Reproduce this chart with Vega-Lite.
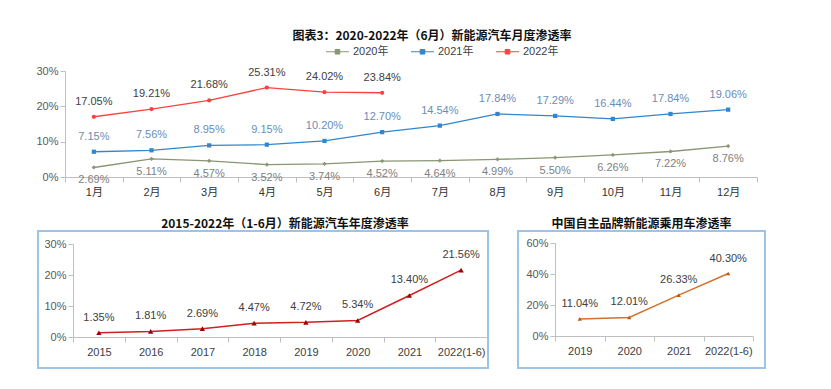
{
  "$schema": "https://vega.github.io/schema/vega-lite/v6.json",
  "background": "white",
  "padding": {"top": 30, "left": 35, "right": 5, "bottom": 5},
  "config": {
    "font": "'Liberation Sans', 'Noto Sans CJK SC', sans-serif",
    "axis": {"domainColor": "#BFBFBF", "tickColor": "#BFBFBF", "grid": false, "labelColor": "#404040", "labelFontSize": 11, "title": null, "tickSize": 5},
    "title": {"fontSize": 12, "fontWeight": "bold", "color": "#111111", "font": "'Noto Sans CJK SC', sans-serif"}
  },
  "datasets": {
    "monthly": [
      {"month": "1月", "series": "2020年", "rate": 0.0269},
      {"month": "2月", "series": "2020年", "rate": 0.0511},
      {"month": "3月", "series": "2020年", "rate": 0.0457},
      {"month": "4月", "series": "2020年", "rate": 0.0352},
      {"month": "5月", "series": "2020年", "rate": 0.0374},
      {"month": "6月", "series": "2020年", "rate": 0.0452},
      {"month": "7月", "series": "2020年", "rate": 0.0464},
      {"month": "8月", "series": "2020年", "rate": 0.0499},
      {"month": "9月", "series": "2020年", "rate": 0.0550},
      {"month": "10月", "series": "2020年", "rate": 0.0626},
      {"month": "11月", "series": "2020年", "rate": 0.0722},
      {"month": "12月", "series": "2020年", "rate": 0.0876},
      {"month": "1月", "series": "2021年", "rate": 0.0715},
      {"month": "2月", "series": "2021年", "rate": 0.0756},
      {"month": "3月", "series": "2021年", "rate": 0.0895},
      {"month": "4月", "series": "2021年", "rate": 0.0915},
      {"month": "5月", "series": "2021年", "rate": 0.1020},
      {"month": "6月", "series": "2021年", "rate": 0.1270},
      {"month": "7月", "series": "2021年", "rate": 0.1454},
      {"month": "8月", "series": "2021年", "rate": 0.1784},
      {"month": "9月", "series": "2021年", "rate": 0.1729},
      {"month": "10月", "series": "2021年", "rate": 0.1644},
      {"month": "11月", "series": "2021年", "rate": 0.1784},
      {"month": "12月", "series": "2021年", "rate": 0.1906},
      {"month": "1月", "series": "2022年", "rate": 0.1705},
      {"month": "2月", "series": "2022年", "rate": 0.1921},
      {"month": "3月", "series": "2022年", "rate": 0.2168},
      {"month": "4月", "series": "2022年", "rate": 0.2531},
      {"month": "5月", "series": "2022年", "rate": 0.2402},
      {"month": "6月", "series": "2022年", "rate": 0.2384}
    ],
    "annual": [
      {"year": "2015", "rate": 0.0135},
      {"year": "2016", "rate": 0.0181},
      {"year": "2017", "rate": 0.0269},
      {"year": "2018", "rate": 0.0447},
      {"year": "2019", "rate": 0.0472},
      {"year": "2020", "rate": 0.0534},
      {"year": "2021", "rate": 0.1340},
      {"year": "2022(1-6)", "rate": 0.2156}
    ],
    "brand": [
      {"year": "2019", "rate": 0.1104},
      {"year": "2020", "rate": 0.1201},
      {"year": "2021", "rate": 0.2633},
      {"year": "2022(1-6)", "rate": 0.4030}
    ]
  },
  "spacing": 20,
  "vconcat": [
    {
      "width": 720,
      "height": 134,
      "view": {"stroke": null},
      "title": {"text": "图表3：2020-2022年（6月）新能源汽车月度渗透率", "dx": 34, "offset": 0},
      "data": {"name": "monthly"},
      "encoding": {
        "x": {
          "field": "month", "type": "ordinal",
          "sort": ["1月", "2月", "3月", "4月", "5月", "6月", "7月", "8月", "9月", "10月", "11月", "12月"],
          "scale": {"type": "band", "range": [27, 719], "paddingInner": 0, "paddingOuter": 0},
          "axis": {"labelAngle": 0, "tickBand": "extent", "labelPadding": 4, "labelColor": "#333333"}
        },
        "y": {
          "field": "rate", "type": "quantitative",
          "scale": {"domain": [0, 0.3], "range": [134, 28], "nice": false, "zero": false},
          "axis": {"offset": -27, "values": [0, 0.1, 0.2, 0.3], "format": ".0%", "labelPadding": 2, "labelColor": "#595959"}
        }
      },
      "layer": [
        {
          "mark": {"type": "line", "strokeWidth": 1.3},
          "encoding": {
            "color": {
              "field": "series", "type": "nominal",
              "scale": {"domain": ["2020年", "2021年", "2022年"], "range": ["#8A9672", "#2F87D0", "#FF4040"]},
              "legend": {
                "orient": "none", "direction": "horizontal", "legendX": 293, "legendY": 2,
                "title": null, "symbolType": "M-2,0H2M-0.4,-0.4H0.4V0.4H-0.4Z",
                "symbolSize": 132, "symbolStrokeWidth": 1, "labelFontSize": 11, "labelColor": "#404040",
                "columnPadding": 20, "labelOffset": 9
              }
            }
          }
        },
        {
          "mark": {"type": "point", "filled": true, "size": 18, "opacity": 1},
          "encoding": {
            "color": {"field": "series", "type": "nominal", "legend": null},
            "shape": {"condition": [{"test": "datum.series === '2021年'", "value": "square"}, {"test": "datum.series === '2022年'", "value": "circle"}], "value": "diamond"}
          }
        },
        {
          "transform": [{"filter": "datum.series === '2020年'"}],
          "mark": {"type": "text", "dy": 13, "fontSize": 11, "color": "#808080"},
          "encoding": {"text": {"field": "rate", "format": ".2%"}}
        },
        {
          "transform": [{"filter": "datum.series !== '2020年'"}],
          "mark": {"type": "text", "dy": -15, "fontSize": 11},
          "encoding": {
            "text": {"field": "rate", "format": ".2%"},
            "color": {"condition": {"test": "datum.series === '2021年'", "value": "#6A8DB8"}, "value": "#404040"}
          }
        }
      ]
    },
    {
      "spacing": 28,
      "hconcat": [
        {
          "width": 450,
          "height": 137,
          "view": {"stroke": "#9DC3E6", "strokeWidth": 2},
          "title": {"text": "2015-2022年（1-6月）新能源汽车年度渗透率", "dx": 22, "offset": 0},
          "data": {"name": "annual"},
          "encoding": {
            "x": {
              "field": "year", "type": "ordinal", "sort": null,
              "scale": {"type": "band", "range": [35, 449], "paddingInner": 0, "paddingOuter": 0},
              "axis": {"offset": -31, "labelAngle": 0, "tickBand": "extent", "labelPadding": 4}
            },
            "y": {
              "field": "rate", "type": "quantitative",
              "scale": {"domain": [0, 0.3], "range": [106, 13], "nice": false, "zero": false},
              "axis": {"offset": -35, "values": [0, 0.1, 0.2, 0.3], "format": ".0%", "labelPadding": 2, "labelColor": "#595959"}
            }
          },
          "layer": [
            {"mark": {"type": "line", "color": "#D02020", "strokeWidth": 1.5}},
            {"mark": {"type": "point", "shape": "triangle-up", "filled": true, "size": 28, "color": "#A00000", "opacity": 1}},
            {"mark": {"type": "text", "dy": -15, "fontSize": 11, "color": "#404040"}, "encoding": {"text": {"field": "rate", "format": ".2%"}}}
          ]
        },
        {
          "width": 247,
          "height": 137,
          "view": {"stroke": "#9DC3E6", "strokeWidth": 2},
          "title": {"text": "中国自主品牌新能源乘用车渗透率", "offset": 0},
          "data": {"name": "brand"},
          "encoding": {
            "x": {
              "field": "year", "type": "ordinal", "sort": null,
              "scale": {"type": "band", "range": [37, 235], "paddingInner": 0, "paddingOuter": 0},
              "axis": {"offset": -32, "labelAngle": 0, "tickBand": "extent", "labelPadding": 4}
            },
            "y": {
              "field": "rate", "type": "quantitative",
              "scale": {"domain": [0, 0.6], "range": [105, 12], "nice": false, "zero": false},
              "axis": {"offset": -37, "values": [0, 0.2, 0.4, 0.6], "format": ".0%", "labelPadding": 2, "labelColor": "#595959"}
            }
          },
          "layer": [
            {"mark": {"type": "line", "color": "#D2722E", "strokeWidth": 1.5}},
            {"mark": {"type": "point", "shape": "triangle-up", "filled": true, "size": 18, "color": "#B85A18", "opacity": 1}},
            {"mark": {"type": "text", "dy": -15, "fontSize": 11, "color": "#404040"}, "encoding": {"text": {"field": "rate", "format": ".2%"}}}
          ]
        }
      ]
    }
  ]
}
